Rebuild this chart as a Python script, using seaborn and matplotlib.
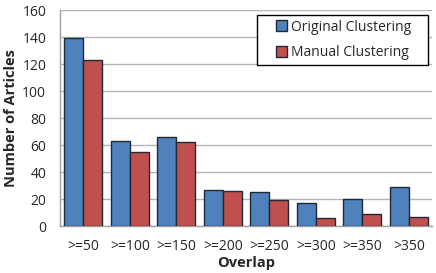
import pandas as pd
import matplotlib
matplotlib.use("Agg")
import matplotlib.pyplot as plt
from matplotlib.patches import Rectangle
import seaborn as sns

categories = [">=50", ">=100", ">=150", ">=200", ">=250", ">=300", ">=350", ">350"]
original = [139, 63, 66, 27, 25, 17, 20, 29]
manual = [123, 55, 62, 26, 19, 6, 9, 7]

df = pd.DataFrame({
    "Overlap": categories * 2,
    "Count": original + manual,
    "Method": ["Original Clustering"] * len(categories) + ["Manual Clustering"] * len(categories),
})

sns.set_style("white")
plt.rcParams['font.family'] = ['Open Sans', 'DejaVu Sans']

fig = plt.figure(figsize=(4.36, 2.73), dpi=100)
ax = fig.add_axes([0.138, 0.172, 0.853, 0.791])

sns.barplot(data=df, x="Overlap", y="Count", hue="Method", order=categories,
            palette=["#4F81BD", "#C0504D"], width=0.82, edgecolor="#1f2a38",
            linewidth=1.0, saturation=1, ax=ax, zorder=3)

ax.set_ylim(0, 160)
ax.set_yticks(range(0, 161, 20))
ax.set_xlim(-0.5, len(categories) - 0.5)
ax.yaxis.grid(True, color="#b4b4b4", linewidth=1.0, zorder=0)
ax.set_axisbelow(True)
for s in ["top", "right"]:
    ax.spines[s].set_visible(False)
for s in ["left", "bottom"]:
    ax.spines[s].set_color("#a0a0a0")
    ax.spines[s].set_linewidth(1.0)

ax.tick_params(axis="y", length=0, labelsize=10, pad=10)
ax.tick_params(axis="x", length=0, labelsize=10, pad=9)
# category separator ticks
ax.set_xticks([i - 0.5 for i in range(len(categories) + 1)], minor=True)
ax.tick_params(axis="x", which="minor", length=4, color="#a0a0a0", width=1)

ax.set_xlabel("Overlap", fontsize=10.5, fontweight="bold", labelpad=2)
ax.set_ylabel("Number of Articles", fontsize=10.5, fontweight="bold", labelpad=3)

# legend box (Excel style: wide side padding)
ax.add_patch(Rectangle((0.53, 0.745), 0.459, 0.232, transform=ax.transAxes,
                       facecolor="white", edgecolor="black", linewidth=1.0,
                       zorder=4, clip_on=False))
leg = ax.legend(loc="upper left", bbox_to_anchor=(0.581, 0.956), frameon=False,
                fontsize=10, handlelength=0.8, handleheight=0.8,
                handletextpad=0.25, borderpad=0, borderaxespad=0, labelspacing=0.78)
leg.set_zorder(5)

fig.savefig("out.png", dpi=100)
